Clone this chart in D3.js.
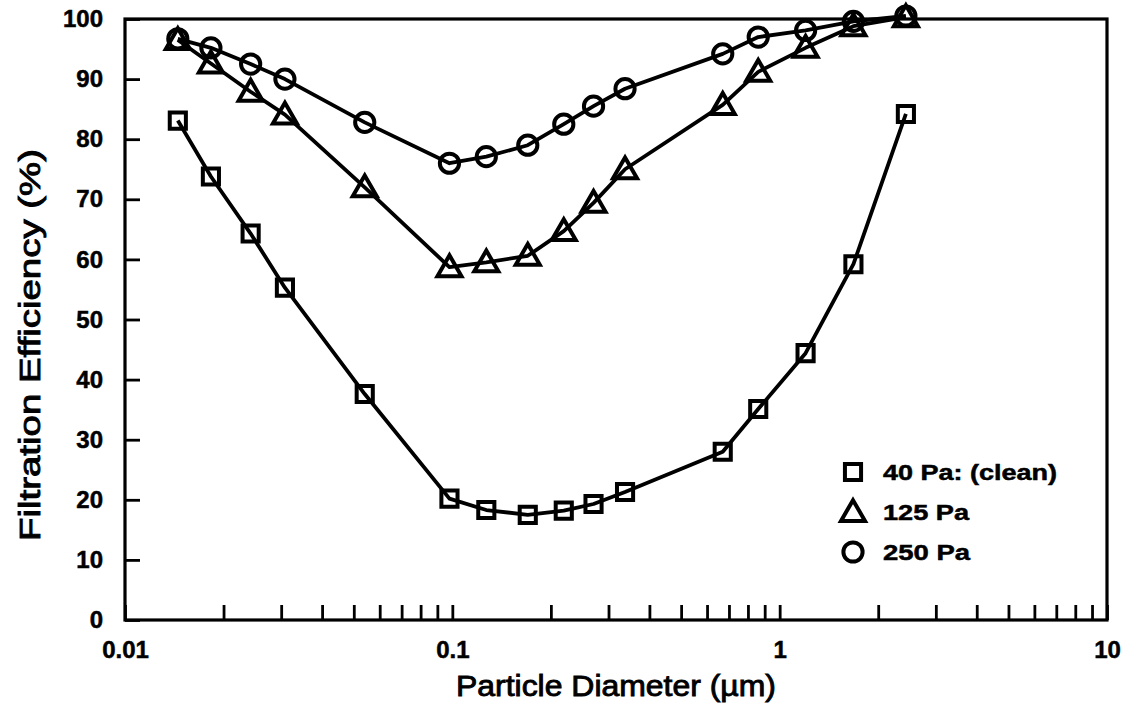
<!DOCTYPE html>
<html>
<head>
<meta charset="utf-8">
<script src="https://cdn.jsdelivr.net/npm/d3@7"></script>
<style>
  body { margin: 0; background: #fff; }
  text { font-family: "Liberation Sans", Arial, Helvetica, sans-serif; fill: #000; }
  .tick-label { font-size: 24px; font-weight: bold; stroke: #000; stroke-width: 0.5px; }
  .axis-title { font-size: 30px; font-weight: normal; stroke: #000; stroke-width: 0.9px; }
  .legend-label { font-size: 22px; font-weight: bold; stroke: #000; stroke-width: 0.5px; }
</style>
</head>
<body>
<div id="wrapper"></div>
<script>
// particle diameters (µm), shared by all three pressure drops
const diameters = [0.0145, 0.0183, 0.0242, 0.0308, 0.054, 0.098, 0.127, 0.17, 0.219, 0.27, 0.337, 0.67, 0.86, 1.2, 1.68, 2.43]

const eff40 = [83.1, 73.8, 64.3, 55.3, 37.6, 20.2, 18.3, 17.5, 18.2, 19.3, 21.3, 28.0, 35.1, 44.4, 59.2, 84.2]
const eff125 = [96.5, 92.6, 87.9, 84.1, 72.0, 58.7, 59.5, 60.6, 64.7, 69.4, 75.0, 85.7, 91.2, 95.2, 98.8, 100.3]
const eff250 = [96.7, 95.2, 92.5, 90.0, 82.8, 76.0, 77.1, 79.0, 82.5, 85.5, 88.4, 94.2, 97.0, 98.1, 99.6, 100.5]

const seriesNames = ["40 Pa: (clean)", "125 Pa", "250 Pa"]
const seriesSymbols = ["square", "triangle", "circle"]
const legendWidths = [174, 86, 87]

const xMajorTicks = [0.01, 0.1, 1, 10]
const yTicks = [0, 10, 20, 30, 40, 50, 60, 70, 80, 90, 100]

function drawChart() {
  let dimensions = {
    width: 1134,
    height: 706,
    margin: { top: 19, right: 27, bottom: 86, left: 125 },
  }
  dimensions.boundedWidth = dimensions.width - dimensions.margin.left - dimensions.margin.right
  dimensions.boundedHeight = dimensions.height - dimensions.margin.top - dimensions.margin.bottom

  const wrapper = d3.select("#wrapper")
    .append("svg")
    .attr("width", dimensions.width)
    .attr("height", dimensions.height)

  const bounds = wrapper.append("g")
    .attr("transform", `translate(${dimensions.margin.left},${dimensions.margin.top})`)

  const xScale = d3.scaleLog()
    .domain([0.01, 10])
    .range([0, dimensions.boundedWidth])

  const yScale = d3.scaleLinear()
    .domain([0, 100])
    .range([dimensions.boundedHeight, 0])

  // every 1..9 tick of each decade
  const xAllTicks = []
  xMajorTicks.slice(0, -1).forEach(dec => {
    for (let k = 1; k <= 9; k++) xAllTicks.push(dec * k)
  })
  xAllTicks.push(10)

  const xAxis = d3.axisBottom(xScale)
    .tickValues(xAllTicks)
    .tickSizeInner(-15)
    .tickSizeOuter(0)
    .tickPadding(21)
    .tickFormat(d => xMajorTicks.some(m => Math.abs(m - d) < 1e-9) ? String(+d.toPrecision(3)) : "")

  const xAxisGroup = bounds.append("g")
    .attr("transform", `translate(0,${dimensions.boundedHeight})`)
    .call(xAxis)
  xAxisGroup.select(".domain").remove()
  xAxisGroup.selectAll("line").attr("stroke", "#000").attr("stroke-width", 2.8)
  xAxisGroup.selectAll("text").attr("class", "tick-label").attr("fill", "#000")

  const yAxis = d3.axisLeft(yScale)
    .tickValues(yTicks)
    .tickSizeInner(-15)
    .tickSizeOuter(0)
    .tickPadding(22)

  const yAxisGroup = bounds.append("g").call(yAxis)
  yAxisGroup.select(".domain").remove()
  yAxisGroup.selectAll("line").attr("stroke", "#000").attr("stroke-width", 2.8)
  yAxisGroup.selectAll("text").attr("class", "tick-label").attr("fill", "#000")

  // frame
  bounds.append("rect")
    .attr("width", dimensions.boundedWidth)
    .attr("height", dimensions.boundedHeight)
    .attr("fill", "none")
    .attr("stroke", "#000")
    .attr("stroke-width", 3.2)

  const allSeries = [eff40, eff125, eff250].map((vals, i) => ({
    name: seriesNames[i],
    symbol: seriesSymbols[i],
    legendWidth: legendWidths[i],
    points: vals.map((v, j) => ({ x: diameters[j], y: v })),
  }))

  const lineGenerator = d3.line()
    .x(d => xScale(d.x))
    .y(d => yScale(d.y))

  bounds.selectAll(".series-line")
    .data(allSeries)
    .enter().append("path")
    .attr("class", "series-line")
    .attr("d", d => lineGenerator(d.points))
    .attr("fill", "none")
    .attr("stroke", "#000")
    .attr("stroke-width", 3.8)
    .attr("stroke-linejoin", "round")

  const symbolPath = {
    square: d3.symbol(d3.symbolSquare, 260)(),
    triangle: d3.symbol(d3.symbolTriangle, 250)(),
    circle: d3.symbol(d3.symbolCircle, 290)(),
  }

  const markerGroups = bounds.selectAll(".markers")
    .data(allSeries)
    .enter().append("g")
    .attr("class", "markers")

  markerGroups.selectAll("path")
    .data(d => d.points.map(p => ({ ...p, symbol: d.symbol })))
    .enter().append("path")
    .attr("transform", d => `translate(${xScale(d.x)},${yScale(d.y) + (d.symbol === "triangle" ? 2 : 0)})`)
    .attr("d", d => symbolPath[d.symbol])
    .attr("fill", "none")
    .attr("stroke", "#000")
    .attr("stroke-width", 4)

  // legend
  const legendGroup = wrapper.append("g")
    .attr("transform", "translate(853, 472)")

  const legendItems = legendGroup.selectAll("g")
    .data(allSeries)
    .enter().append("g")
    .attr("transform", (d, i) => `translate(0,${i * 40})`)

  legendItems.append("path")
    .attr("d", d => symbolPath[d.symbol])
    .attr("transform", d => d.symbol === "triangle" ? "translate(0,2)" : null)
    .attr("fill", "none")
    .attr("stroke", "#000")
    .attr("stroke-width", 4)

  legendItems.append("text")
    .attr("class", "legend-label")
    .attr("x", 30)
    .attr("y", 8)
    .attr("textLength", d => d.legendWidth)
    .attr("lengthAdjust", "spacingAndGlyphs")
    .text(d => d.name)

  // axis titles
  wrapper.append("text")
    .attr("class", "axis-title")
    .attr("text-anchor", "middle")
    .attr("x", dimensions.margin.left + dimensions.boundedWidth / 2)
    .attr("y", 696)
    .attr("textLength", 320)
    .attr("lengthAdjust", "spacingAndGlyphs")
    .text("Particle Diameter (µm)")

  wrapper.append("text")
    .attr("class", "axis-title")
    .attr("text-anchor", "middle")
    .attr("transform", "translate(40, 345) rotate(-90)")
    .attr("textLength", 392)
    .attr("lengthAdjust", "spacingAndGlyphs")
    .text("Filtration Efficiency (%)")
}

drawChart()
</script>
</body>
</html>
